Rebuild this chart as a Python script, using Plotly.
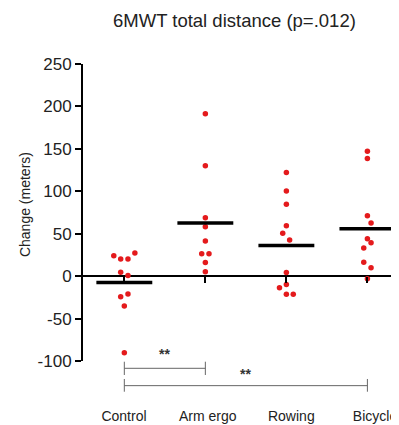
import numpy as np
import plotly.graph_objects as go

categories = ["Control", "Arm ergo", "Rowing", "Bicycle"]

control = [24.0, 20.1, 20.1, 27.2, 4.7, 0.8, -24.4, -20.9, -35.1, -90.4]
control_off = [-0.13, -0.045, 0.045, 0.13, -0.045, 0.045, -0.045, 0.045, 0.0, 0.0]

arm_ergo = [191.3, 130.2, 68.8, 58.2, 41.3, 26.3, 26.3, 16.2, 5.1]
arm_off = [0.0, 0.0, 0.0, 0.0, 0.0, -0.045, 0.045, 0.0, 0.0]

rowing = [122.0, 100.4, 84.7, 59.4, 50.4, 42.5, 4.4, -9.8, -13.8, -21.3, -21.3]
rowing_off = [0.0, 0.0, 0.0, 0.0, -0.045, 0.04, 0.0, 0.0, -0.085, 0.0, 0.085]

bicycle = [147.2, 138.5, 71.2, 62.6, 44.0, 39.3, 33.1, 16.5, 9.8, -3.2]
bicycle_off = [0.0, 0.0, 0.0, 0.045, 0.0, 0.045, -0.045, -0.045, 0.045, 0.0]

groups = [control, arm_ergo, rowing, bicycle]
offsets = [control_off, arm_off, rowing_off, bicycle_off]

y_ticks = [-100, -50, 0, 50, 100, 150, 200, 250]
y_tick_labels = ["-100", "-50", "0", "50", "100", "150", "200", "250"]

# significance brackets: (from index, to index, label)
brackets = [(0, 1, "**"), (0, 3, "**")]

XR = [-0.51, 3.39]
XR_LABELS = [-0.49, 3.287]
YR = [-100, 250]
FONT = "Liberation Sans, Arial"

fig = go.Figure()

for i, (vals, offs) in enumerate(zip(groups, offsets)):
    fig.add_trace(go.Scatter(
        x=[i + o for o in offs], y=vals, mode="markers",
        marker=dict(color="#e41a1c", size=5.5),
        showlegend=False, hoverinfo="skip", cliponaxis=False))

for i, vals in enumerate(groups):
    m = float(np.mean(vals))
    fig.add_trace(go.Scatter(
        x=[i - 0.345, i + 0.345], y=[m, m], mode="lines",
        line=dict(color="black", width=3.5),
        showlegend=False, hoverinfo="skip"))

# invisible traces to activate the helper axes
fig.add_trace(go.Scatter(x=[0], y=[None], xaxis="x2", yaxis="y",
                         mode="markers", showlegend=False, hoverinfo="skip"))
fig.add_trace(go.Scatter(x=[0], y=[None], xaxis="x3", yaxis="y",
                         mode="markers", showlegend=False, hoverinfo="skip"))

shapes = []
annotations = []
levels = [(-0.0246, -0.0024, -0.0471, 0.022), (-0.083, -0.0606, -0.1034, -0.043)]
for (a, b, lab), (yl, yt, yb, ya) in zip(brackets, levels):
    col = "#666666"
    shapes.append(dict(type="line", xref="x", yref="paper", x0=a, x1=b, y0=yl, y1=yl,
                       line=dict(color=col, width=1)))
    for xx in (a, b):
        shapes.append(dict(type="line", xref="x", yref="paper", x0=xx, x1=xx, y0=yt, y1=yb,
                           line=dict(color=col, width=1)))
    annotations.append(dict(text="<b>" + lab + "</b>", xref="x", yref="paper", x=(a + b) / 2, y=ya,
                            showarrow=False, font=dict(size=14, color="#333333", family=FONT),
                            xanchor="center", yanchor="middle"))

annotations.append(dict(text="6MWT total distance (p=.012)", xref="paper", yref="paper",
                        x=0.478, y=1.148, showarrow=False, xanchor="center", yanchor="middle",
                        font=dict(size=18.5, color="#222222", family=FONT)))

annotations.append(dict(text="Change (meters)", xref="paper", yref="paper",
                        x=-0.1835, y=0.525, showarrow=False, textangle=-90,
                        xanchor="center", yanchor="middle",
                        font=dict(size=14, color="#222222", family=FONT)))

fig.update_layout(
    width=391, height=417,
    margin=dict(l=75, r=0, t=56, b=64, autoexpand=False),
    paper_bgcolor="white", plot_bgcolor="white",
    font=dict(family=FONT, color="#222222"),
    shapes=shapes, annotations=annotations,
    xaxis=dict(range=XR, showticklabels=False, ticks="",
               showgrid=False, zeroline=False, showline=False, automargin=False),
    xaxis2=dict(range=XR, overlaying="x", anchor="free", position=100 / 350,
                tickvals=list(range(len(categories))), showticklabels=False,
                ticks="outside", ticklen=6, tickwidth=2, tickcolor="black", automargin=False,
                showgrid=False, zeroline=False, showline=False),
    xaxis3=dict(range=XR_LABELS, overlaying="x", anchor="y",
                tickvals=list(range(len(categories))), ticktext=categories,
                showgrid=False, zeroline=False, showline=False, automargin=False,
                ticks="outside", ticklen=42, tickcolor="rgba(0,0,0,0)",
                ticklabeloverflow="allow",
                tickfont=dict(size=14, color="#222222")),
    yaxis=dict(range=YR, tickvals=y_ticks, ticktext=y_tick_labels, showgrid=False,
               automargin=False,
               zeroline=True, zerolinecolor="black", zerolinewidth=2,
               showline=True, linecolor="black", linewidth=2,
               ticks="outside", ticklen=6, tickwidth=2, tickcolor="black",
               tickfont=dict(size=17, color="#222222")),
)

fig.write_html("out.html")
